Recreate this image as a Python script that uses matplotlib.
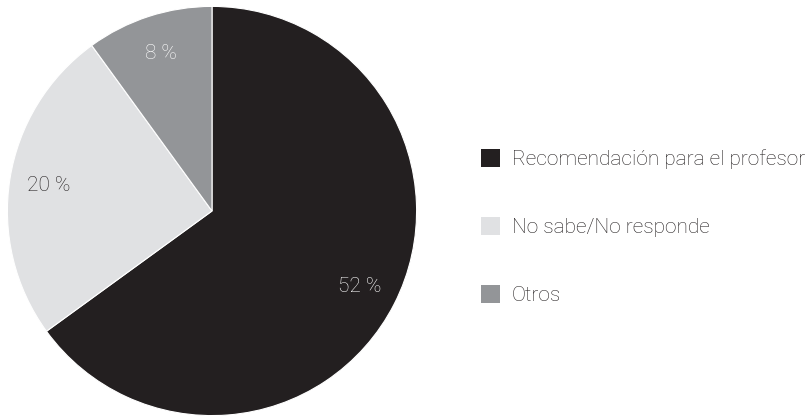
import matplotlib.pyplot as plt
from matplotlib.patches import Patch

labels = ['Recomendación para el profesor', 'No sabe/No responde', 'Otros']
values = [52, 20, 8]
colors = ['#231f20', '#e0e1e3', '#939598']
pct_colors = ['white', '#231f20', 'white']

plt.rcParams['font.family'] = ['Roboto', 'DejaVu Sans']

fig = plt.figure(figsize=(8.09, 4.17), dpi=100)
ax = fig.add_axes([7 / 809, 1 / 417, 410 / 809, 410 / 417])

total = sum(values)
wedges, texts, autotexts = ax.pie(
    values, colors=colors, startangle=90, counterclock=False,
    autopct=lambda p: f"{p * total / 100:.0f} %", pctdistance=0.81,
    wedgeprops=dict(edgecolor='white', linewidth=0.8),
    textprops=dict(fontsize=15, fontweight='light'))
for t, c in zip(autotexts, pct_colors):
    t.set_color(c)
ax.set_xlim(-1.002, 1.002)
ax.set_ylim(-1.002, 1.002)
ax.set_aspect('equal')

handles = [Patch(facecolor=c, edgecolor='none') for c in colors]
fig.legend(handles, labels, loc='center left', bbox_to_anchor=(0.594, 0.455),
           frameon=False, prop=dict(size=15, weight='light'),
           handlelength=0.95, handleheight=0.95, handletextpad=0.55,
           labelspacing=2.3, borderpad=0, borderaxespad=0,
           labelcolor='#231f20')

fig.savefig('out.png', dpi=100)
